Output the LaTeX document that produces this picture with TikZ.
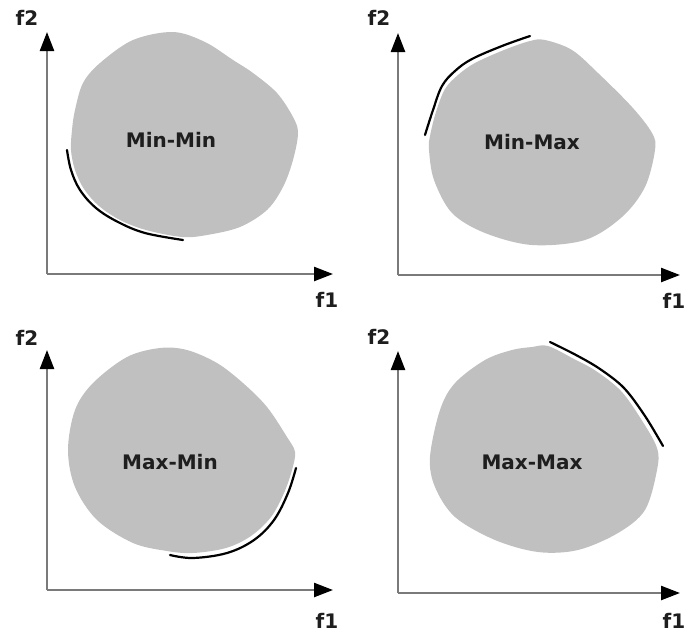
\documentclass[tikz,border=0pt]{standalone}
\usepackage{fontspec}
\setmainfont{DejaVu Sans}
\usetikzlibrary{arrows.meta}
\definecolor{blobgray}{HTML}{C0C0C0}
\definecolor{axisgray}{HTML}{7A7A7A}
\definecolor{txt}{HTML}{1E1E1E}
\tikzset{
  axis/.style={draw=axisgray, line width=2.4pt, -{Triangle[length=19pt,width=14pt,color=black]}},
  blob/.style={fill=blobgray, draw=none},
  front/.style={draw=black, line width=2.2pt, line cap=round},
  lbl/.style={font=\bfseries\fontsize{20}{20}\selectfont, text=txt, inner sep=0pt},
}
\begin{document}
\begin{tikzpicture}[x=1pt,y=-1pt]
\useasboundingbox (0,0) rectangle (685,635);
% ---------- panel 1 ----------
\fill[blob] plot[smooth cycle, tension=0.55] coordinates {(173,32) (205,42) (233,60) (253,73) (277,93) (293,117) (298,133) (293,160) (283,187) (267,210) (240,227) (207,235) (182,237) (146,230) (120,220) (99,206) (84,189) (75,170) (71,150) (72,130) (75,110) (83,83) (100,63) (133,40)};
\coordinate (o1) at (47,274);
\coordinate (x1) at (333,274);
\coordinate (y1) at (47,32);
\draw[axis] (o1) -- (x1);
\draw[axis] (o1) -- (y1);
\node[lbl] (f2a) at (27,18) {f2};
\node[lbl] (f1a) at (327,300) {f1};
\node[lbl] (t1) at (171,140) {Min-Min};
\draw[front] plot[smooth, tension=0.6] coordinates {(67,150) (71,170) (80,190) (96,208) (118,222) (145,233) (183,240)};
% ---------- panel 2 ----------
\fill[blob] plot[smooth cycle, tension=0.55] coordinates {(545,40) (572,50) (598,73) (632,107) (652,133) (655,150) (645,187) (622,217) (585,240) (532,245) (485,233) (452,213) (434,180) (429,150) (430,136) (436,112) (445,89) (458,75) (475,63) (504,50) (530,41)};
\coordinate (o2) at (398,275);
\coordinate (x2) at (680,275);
\coordinate (y2) at (398,33);
\draw[axis] (o2) -- (x2);
\draw[axis] (o2) -- (y2);
\node[lbl] (f2b) at (379,18) {f2};
\node[lbl] (f1b) at (674,301) {f1};
\node[lbl] (t2) at (532,142) {Min-Max};
\draw[front] plot[smooth, tension=0.6] coordinates {(425,135) (433,110) (442,86) (455,71) (472,59) (502,46) (530,36)};
% ---------- panel 3 ----------
\fill[blob] plot[smooth cycle, tension=0.55] coordinates {(160,348) (187,350) (217,363) (243,383) (267,407) (287,437) (295,452) (292,470) (284,493) (271,517) (251,536) (226,548) (193,553) (167,551) (133,543) (97,520) (75,487) (68,450) (75,410) (93,383) (127,357)};
\coordinate (o3) at (47,590);
\coordinate (x3) at (333,590);
\coordinate (y3) at (47,350);
\draw[axis] (o3) -- (x3);
\draw[axis] (o3) -- (y3);
\node[lbl] (f2c) at (27,338) {f2};
\node[lbl] (f1c) at (327,621) {f1};
\node[lbl] (t3) at (170,462) {Max-Min};
\draw[front] plot[smooth, tension=0.6] coordinates {(296,468) (288,493) (274,520) (254,540) (227,553) (193,558) (170,555)};
% ---------- panel 4 ----------
\fill[blob] plot[smooth cycle, tension=0.55] coordinates {(532,347) (548,346) (574,359) (596,371) (621,391) (641,419) (657,448) (657,470) (645,510) (618,533) (578,550) (538,552) (495,540) (455,517) (435,487) (430,457) (440,410) (455,383) (485,360) (512,350)};
\coordinate (o4) at (398,593);
\coordinate (x4) at (680,593);
\coordinate (y4) at (398,351);
\draw[axis] (o4) -- (x4);
\draw[axis] (o4) -- (y4);
\node[lbl] (f2d) at (379,337) {f2};
\node[lbl] (f1d) at (674,621) {f1};
\node[lbl] (t4) at (532,462) {Max-Max};
\draw[front] plot[smooth, tension=0.55] coordinates {(550,342) (576,355) (600,369) (624,388) (645,416) (663,446)};
\end{tikzpicture}
\end{document}
